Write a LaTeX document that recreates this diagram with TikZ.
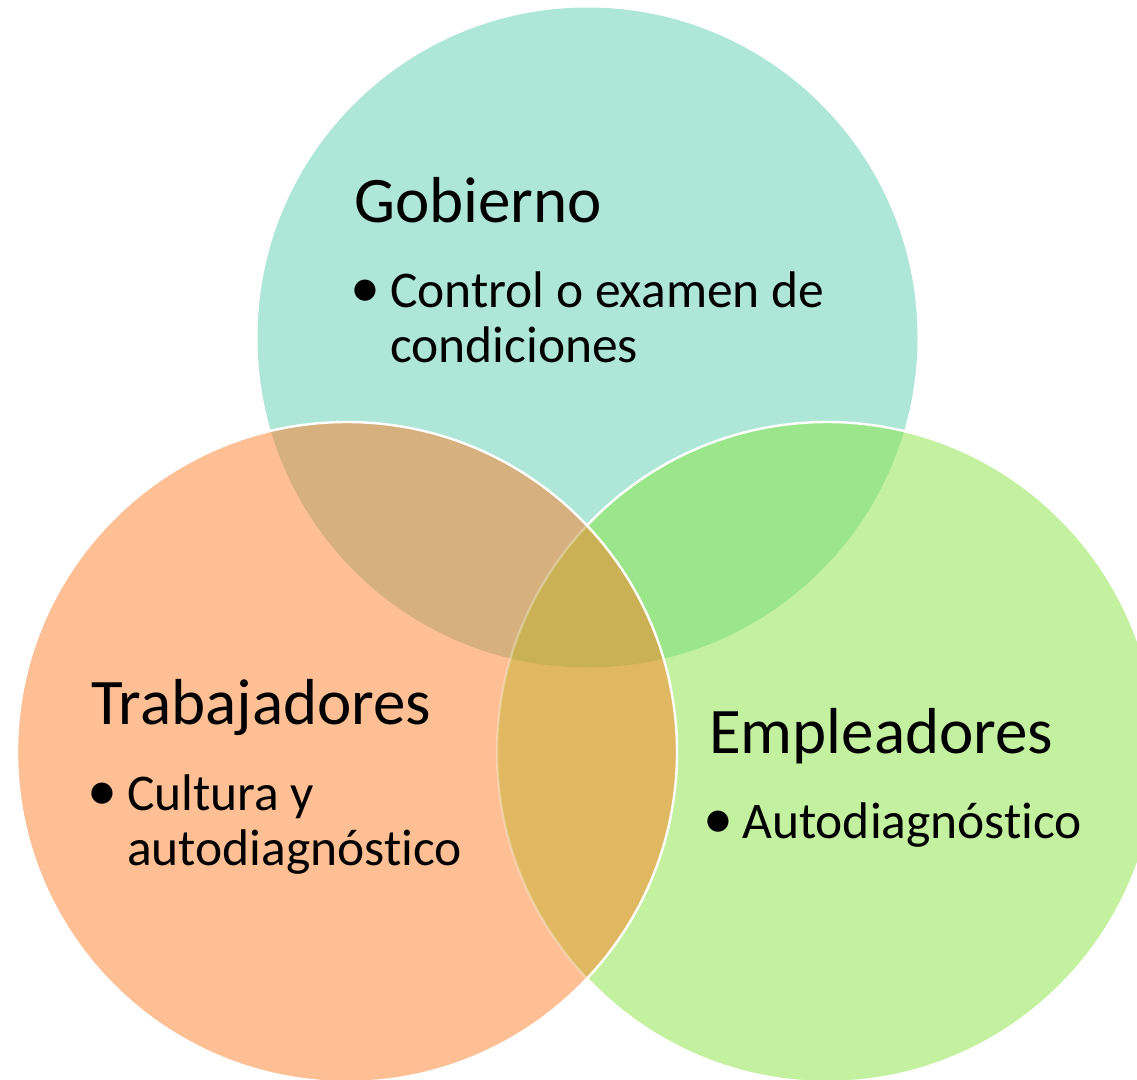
\documentclass[tikz,border=0pt]{standalone}
\usepackage{fontspec}
\setmainfont[Ligatures=NoCommon]{Carlito}
\definecolor{cT}{HTML}{AEE6D8}
\definecolor{cL}{HTML}{FDBF93}
\definecolor{cR}{HTML}{C4F19F}
\definecolor{cTL}{HTML}{D6B07E}
\definecolor{cTR}{HTML}{9BE68A}
\definecolor{cLR}{HTML}{E0B862}
\definecolor{cTLR}{HTML}{CBB155}
\tikzset{
  title/.style={anchor=base west, inner sep=0pt, font=\fontsize{65}{70}\selectfont},
  bodytext/.style={anchor=base west, inner sep=0pt, align=left, font=\fontsize{51.5}{55}\selectfont},
  bulletmark/.style={anchor=base west, inner sep=0pt, font=\fontsize{60}{60}\selectfont},
  rim/.style={draw=white, line width=2.4pt}
}
\begin{document}
\begin{tikzpicture}[x=1pt,y=-1pt]
\useasboundingbox (0,0) rectangle (1137,1079);
\clip (0,0) rectangle (1137,1079);
\coordinate (ct) at (587.5,337.5);
\coordinate (cl) at (347,752);
\coordinate (cr) at (827,752);
% top and right circles
\fill[cT] (ct) circle[radius=330pt];
\fill[cR] (cr) circle[radius=330pt];
\begin{scope}
  \clip (ct) circle[radius=330pt];
  \fill[cTR] (cr) circle[radius=330pt];
\end{scope}
\draw[rim] (cr) circle[radius=330pt];
% left circle on top
\fill[cL] (cl) circle[radius=330pt];
\begin{scope}
  \clip (cl) circle[radius=330pt];
  \fill[cTL] (ct) circle[radius=330pt];
  \fill[cLR] (cr) circle[radius=330pt];
  \clip (ct) circle[radius=330pt];
  \fill[cTLR] (cr) circle[radius=330pt];
\end{scope}
\begin{scope}
  \clip (cl) circle[radius=330pt];
  \draw[rim, draw opacity=0.3] (cr) circle[radius=330pt];
\end{scope}
\draw[rim] (cl) circle[radius=330pt];
% texts
\node[title] (gob) at (354,222) {Gobierno};
\node[bulletmark] (gobb) at (350,307) {•};
\node[bodytext] (gobt) at (390,362) {Control o examen de\\condiciones};
\node[title] (tra) at (91,724) {Trabajadores};
\node[bulletmark] (trab) at (87,810) {•};
\node[bodytext] (trat) at (127,865) {Cultura y\\autodiagnóstico};
\node[title] (emp) at (709,753) {Empleadores};
\node[bulletmark] (empb) at (703,838) {•};
\node[bodytext] (empt) at (742,838) {Autodiagnóstico};
\end{tikzpicture}
\end{document}
